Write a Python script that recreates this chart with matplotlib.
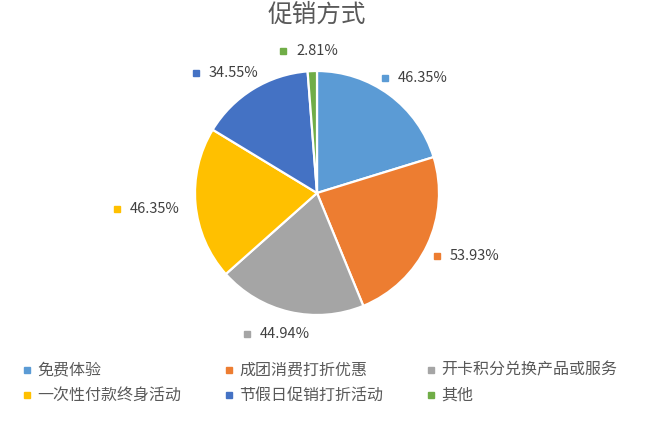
import matplotlib
matplotlib.use("Agg")
import matplotlib.pyplot as plt

plt.rcParams['font.family'] = ['Noto Sans CJK SC', 'DejaVu Sans']

# data
categories = ['免费体验', '成团消费打折优惠', '开卡积分兑换产品或服务',
              '一次性付款终身活动', '节假日促销打折活动', '其他']
values = [46.35, 53.93, 44.94, 46.35, 34.55, 2.81]
colors = ['#5B9BD5', '#ED7D31', '#A5A5A5', '#FFC000', '#4472C4', '#70AD47']
title = '促销方式'

W, H = 651, 425
text_color = '#595959'

fig = plt.figure(figsize=(W / 100, H / 100), dpi=100)
ax = fig.add_axes([0, 0, 1, 1])


def py(y):
    # pixel row (from top) -> data y
    return H - y


# pie
cx, cy, r = 317, 193, 122
ax.pie(values, colors=colors, startangle=90, counterclock=False,
       center=(cx, py(cy)), radius=r, frame=True,
       wedgeprops=dict(edgecolor='white', linewidth=1.6))
ax.set_xlim(0, W)
ax.set_ylim(0, H)
ax.axis('off')

# data labels (marker pixel position per slice)
label_pos = [(385, 78), (437, 256), (247, 334), (117, 209), (196, 73), (283, 51)]
for (mx, my), v, c in zip(label_pos, values, colors):
    ax.plot(mx, py(my), marker='s', markersize=4.2, color=c, linestyle='none')
    ax.text(mx + 13, py(my), f'{v:.2f}%', fontsize=10.5, color='#404040',
            ha='left', va='center')

# title
ax.text(cx, py(15), title, fontsize=17.7, color=text_color, ha='center', va='center')

# legend
leg_cols = [27, 229, 431]
leg_rows = [370, 395]
for i, (name, c) in enumerate(zip(categories, colors)):
    lx = leg_cols[i % 3]
    ly = leg_rows[i // 3]
    ax.plot(lx, py(ly), marker='s', markersize=5, color=c, linestyle='none')
    ax.text(lx + 10, py(ly), name, fontsize=11.5, color=text_color,
            ha='left', va='center')

fig.savefig('out.png', dpi=100)
